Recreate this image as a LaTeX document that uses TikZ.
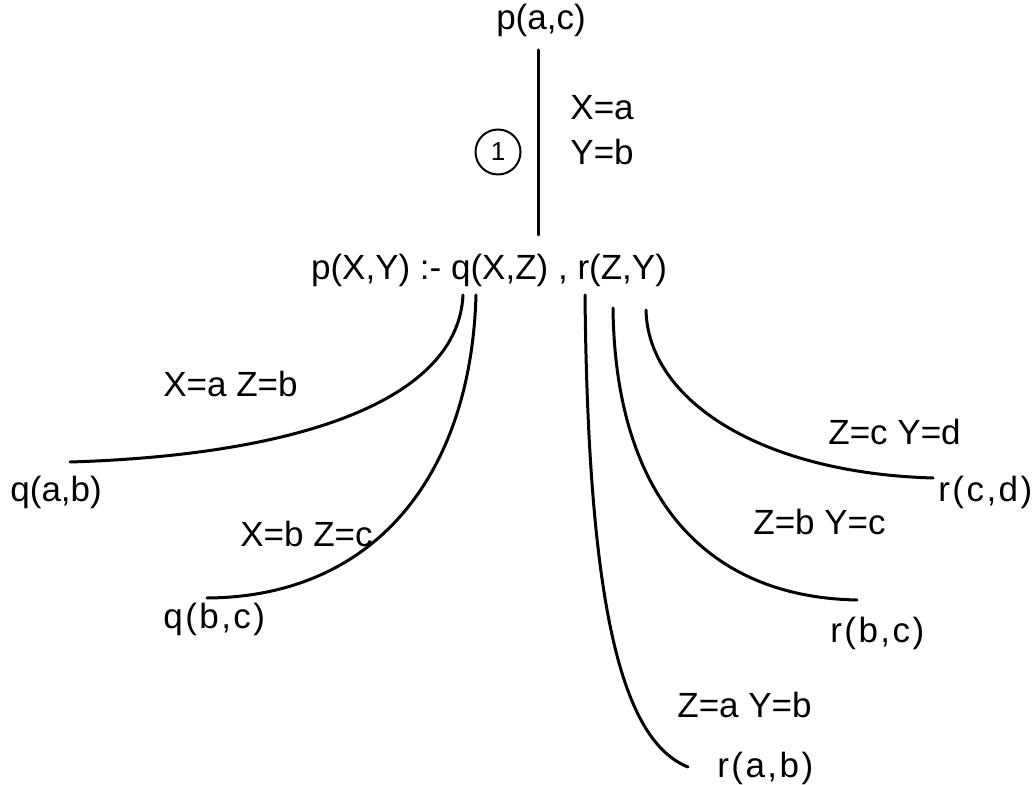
\documentclass[tikz,border=0pt]{standalone}
\usepackage{fontspec}
\setmainfont{Liberation Sans}
\newfontfamily\wideface[LetterSpace=7]{Liberation Sans}
\begin{document}
\begin{tikzpicture}[x=0.5pt,y=-0.5pt,
  lbl/.style={inner sep=0pt,anchor=base west,font=\fontsize{17.5}{21}\selectfont},
  wide/.style={lbl,font=\fontsize{17.5}{21}\wideface},
  arc/.style={line width=1.5pt,line cap=round}]
\useasboundingbox (0,0) rectangle (1033,785);
% texts
\node[lbl,anchor=base] (top) at (541,30) {p(a,c)};
\node[lbl] (xa) at (570,120) {X=a};
\node[lbl] (yb) at (570,165) {Y=b};
\node[draw,circle,line width=1pt,minimum size=22.5pt,inner sep=0pt,font=\fontsize{13}{15}\selectfont] (one) at (498,152) {1};
\node[lbl,anchor=base] (rule) at (489,280) {p(X,Y) :- q(X,Z) , r(Z,Y)};
\node[lbl] (qab) at (10,502) {q(a,b)};
\node[lbl] (l1) at (163,397) {X=a Z=b};
\node[lbl] (l2) at (240,547) {X=b Z=c};
\node[wide] (qbc) at (163,628) {q(b,c)};
\node[lbl] (l5) at (828,445) {Z=c Y=d};
\node[wide] (rcd) at (938,502) {r(c,d)};
\node[lbl] (l4) at (753,535) {Z=b Y=c};
\node[wide] (rbc) at (830,642) {r(b,c)};
\node[lbl] (l3) at (677,717) {Z=a Y=b};
\node[wide] (rab) at (717,777) {r(a,b)};
% end points
\coordinate (vt) at (538,50);
\coordinate (vb) at (538,235);
\coordinate (q1) at (463,295);
\coordinate (q2) at (476,295);
\coordinate (r1) at (585,295);
\coordinate (r2) at (613,308);
\coordinate (r3) at (646,310);
\coordinate (e1) at (70,462);
\coordinate (e2) at (207,598);
\coordinate (e3) at (688,767);
\coordinate (e4) at (857,600);
\coordinate (e5) at (933,478);
% connectors
\draw[arc] (vt) -- (vb);
\draw[arc] (q1) .. controls (458,400) and (300,455) .. (e1);
\draw[arc] (q2) .. controls (471,475) and (375,597) .. (e2);
\draw[arc] (r1) .. controls (588,600) and (620,740) .. (e3);
\draw[arc] (r2) .. controls (615,490) and (700,597) .. (e4);
\draw[arc] (r3) .. controls (648,400) and (760,473) .. (e5);
\end{tikzpicture}
\end{document}
